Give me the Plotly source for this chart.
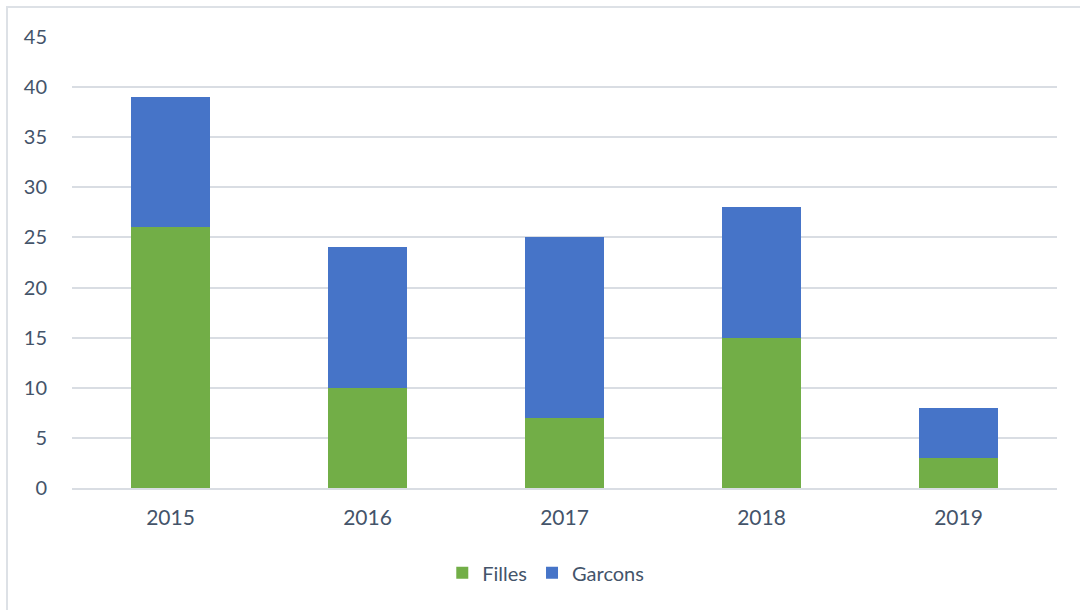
import plotly.graph_objects as go

years = ["2015", "2016", "2017", "2018", "2019"]
filles = [26, 10, 7, 15, 3]
garcons = [13, 14, 18, 13, 5]
y_ticks = [0, 5, 10, 15, 20, 25, 30, 35, 40, 45]

font_color = "#44546A"
grid_color = "#D9DDE3"

fig = go.Figure()
fig.add_trace(go.Bar(x=years, y=filles, name="Filles",
                     marker=dict(color="#72AE47", line=dict(width=0))))
fig.add_trace(go.Bar(x=years, y=garcons, name="Garcons",
                     marker=dict(color="#4674C8", line=dict(width=0))))

fig.update_layout(
    width=1080, height=610,
    barmode="stack",
    bargap=0.594,
    paper_bgcolor="white",
    plot_bgcolor="white",
    margin=dict(l=72, r=23, t=37, b=122),
    font=dict(family="Lato, Calibri, sans-serif", size=20, color=font_color),
    showlegend=True,
    legend=dict(orientation="h", x=0.481, xanchor="center", y=-0.188, yanchor="middle",
                font=dict(size=20, color=font_color), traceorder="normal",
                itemwidth=30),
    xaxis=dict(showgrid=False, showline=True, linecolor=grid_color, linewidth=2,
               ticks="", ticklabelstandoff=10, tickfont=dict(size=21, color=font_color)),
    yaxis=dict(range=[0, 45], tickvals=y_ticks, showgrid=True, gridcolor=grid_color,
               gridwidth=1.5, zeroline=False, showline=False, ticks="",
               ticklabelstandoff=24, tickfont=dict(size=20, color=font_color)),
    shapes=[dict(type="rect", xref="paper", yref="paper",
                 x0=-65/985, x1=1+60/985, y0=-160/451, y1=1+30/451,
                 line=dict(color="#DDE1E6", width=2), fillcolor="rgba(0,0,0,0)",
                 layer="below")],
)

fig.write_html("out.html", config={"displayModeBar": False},
               post_script="document.body.style.margin='0';document.body.style.overflow='hidden';")
